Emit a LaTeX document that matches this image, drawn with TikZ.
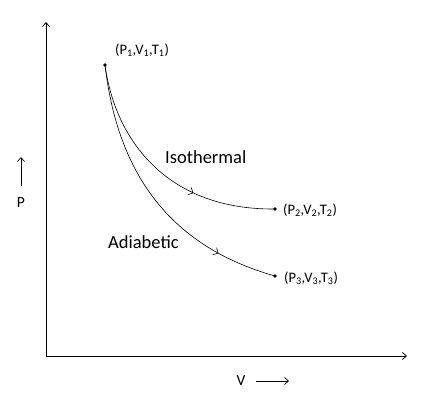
\documentclass[tikz,border=0pt]{standalone}
\usepackage{fontspec}
\setmainfont{Carlito}
\usetikzlibrary{arrows.meta,decorations.markings}
\begin{document}
\begin{tikzpicture}[x=1pt,y=-1pt,
  chev/.style={-{Straight Barb[length=4pt,width=7pt]}},
  axis/.style={line width=0.8pt,chev},
  curve/.style={line width=0.6pt},
  dotpt/.style={circle,fill=black,inner sep=0pt,minimum size=3.6pt},
  lbl/.style={font=\fontsize{14.5}{16}\selectfont,inner sep=0pt,anchor=west},
  axlbl/.style={font=\fontsize{15.5}{17}\selectfont,inner sep=0pt,anchor=center},
  big/.style={font=\fontsize{18.5}{20}\selectfont,inner sep=0pt,anchor=west},
  midarrow/.style={postaction={decorate},decoration={markings,mark=at position #1 with {\arrow{Straight Barb[length=4pt,width=8pt]}}}}]
\useasboundingbox (0,0) rectangle (421,401);
% axes
\coordinate (O) at (46,356);
\coordinate (Ytop) at (46,22);
\coordinate (Xend) at (407,356);
\draw[axis] (O) -- (Ytop);
\draw[axis] (O) -- (Xend);
% points
\node[dotpt] (A) at (105,65) {};
\node[dotpt] (B) at (275,209) {};
\node[dotpt] (C) at (275,276) {};
% curves
\draw[curve,midarrow=0.66] (A.center) .. controls (115.5,142) and (168.5,210) .. (B.center);
\draw[curve,midarrow=0.79] (A.center) .. controls (117,168) and (165,245) .. (C.center);
% labels
\node[lbl] (LA) at (115,50) {(P\textsubscript{1},V\textsubscript{1},T\textsubscript{1})};
\node[lbl] (LB) at (283,210) {(P\textsubscript{2},V\textsubscript{2},T\textsubscript{2})};
\node[lbl] (LC) at (284,278) {(P\textsubscript{3},V\textsubscript{3},T\textsubscript{3})};
\node[big] (iso) at (165,157) {Isothermal};
\node[big] (adi) at (108,242) {Adiabetic};
% axis labels
\node[axlbl] (P) at (21,203) {P};
\coordinate (Pa) at (21,186);
\coordinate (Pb) at (21,157);
\draw[line width=0.7pt,chev] (Pa) -- (Pb);
\node[axlbl] (V) at (241,381) {V};
\coordinate (Va) at (256,381);
\coordinate (Vb) at (289,381);
\draw[line width=0.7pt,chev] (Va) -- (Vb);
\end{tikzpicture}
\end{document}
